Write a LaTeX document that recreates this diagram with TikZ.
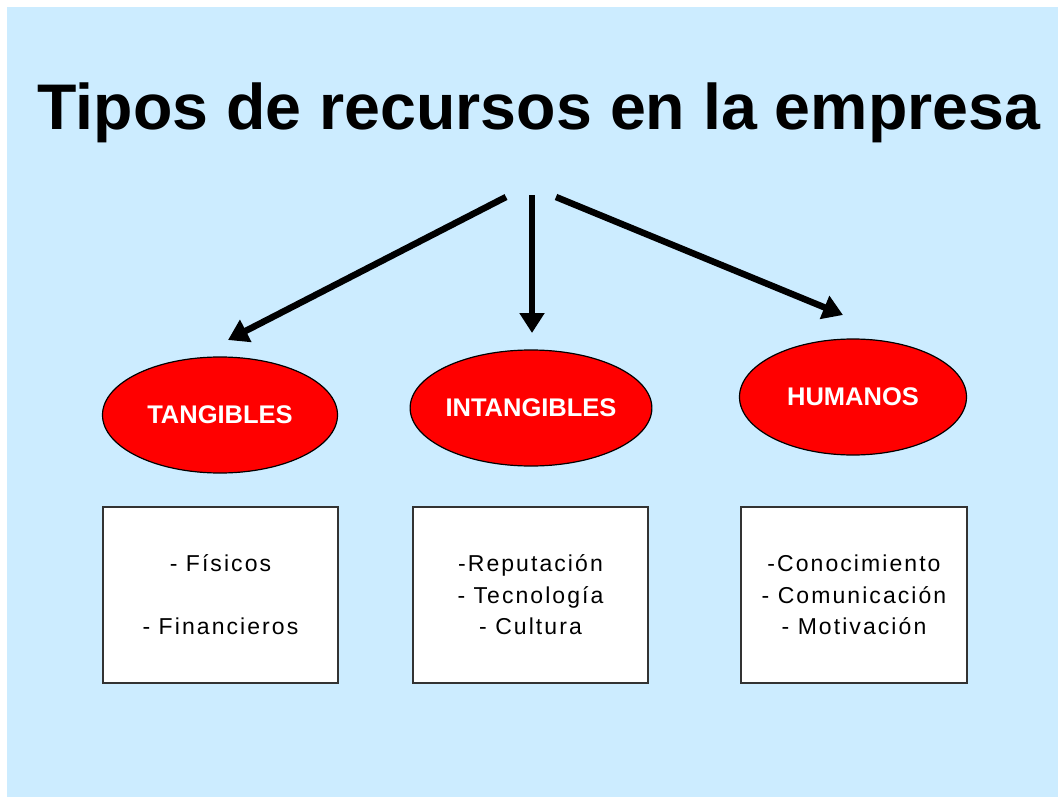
\documentclass[tikz,border=0pt]{standalone}
\usepackage{fontspec}
\setmainfont{Liberation Sans}
\newfontfamily\boxfont[LetterSpace=9]{Liberation Sans}
\usetikzlibrary{arrows.meta,shapes.geometric}
\definecolor{bgblue}{RGB}{204,236,255}
\definecolor{ovalred}{RGB}{255,0,0}
\tikzset{
  oval/.style={ellipse, draw=black, line width=1.2pt, fill=ovalred, minimum width=#1, minimum height=116pt, inner sep=0pt, text=white, font=\fontsize{25.5}{28}\selectfont\bfseries},
  listbox/.style={rectangle, draw=black!80, line width=1.5pt, fill=white, minimum width=#1, minimum height=176pt, inner sep=0pt, align=center, font=\boxfont\fontsize{23}{31.5}\selectfont},
  bigarrow/.style={line width=6.5pt, -{Triangle[width=24pt,length=20pt]}}
}
\begin{document}
\begin{tikzpicture}[x=1pt,y=-1pt]
\useasboundingbox (0,0) rectangle (1058,797);
\fill[white] (0,0) rectangle (1058,797);
\fill[bgblue] (7,7) rectangle (1058,797);
\node[font=\fontsize{64.5}{70}\selectfont\bfseries, anchor=base] (title) at (539,130) {Tipos de recursos en la empresa};
\node[oval=235pt] (tang) at (220,415) {TANGIBLES};
\node[oval=235pt] (intang) at (531,408) {INTANGIBLES};
\node[oval=227pt] (hum) at (853,397) {HUMANOS};
\node[listbox=235pt] (b1) at (220.5,595) {- Físicos\\ \\- Financieros};
\node[listbox=235pt] (b2) at (530.5,595) {-Reputación\\- Tecnología\\- Cultura};
\node[listbox=226pt] (b3) at (854,595) {-Conocimiento\\- Comunicación\\- Motivación};
\coordinate (s1) at (506,197);
\coordinate (s2) at (532,195);
\coordinate (s3) at (556,197);
\coordinate (t1) at (228,340);
\coordinate (t2) at (532,333);
\coordinate (t3) at (843,315);
\draw[bigarrow] (s1) -- (t1);
\draw[bigarrow] (s2) -- (t2);
\draw[bigarrow] (s3) -- (t3);
\end{tikzpicture}
\end{document}
